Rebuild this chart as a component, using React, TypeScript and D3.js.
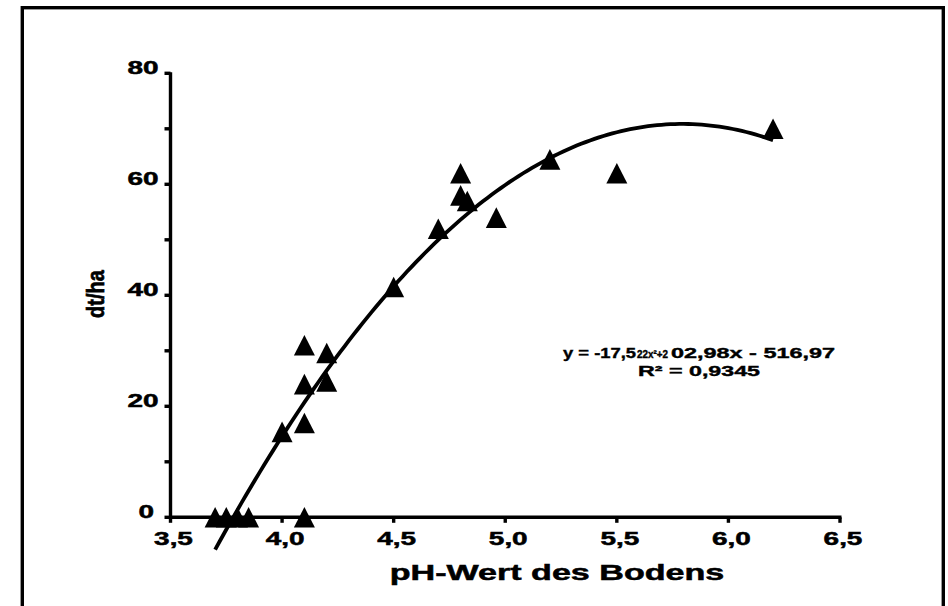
import { useEffect, useRef } from "react";
import * as d3 from "d3";

// soil pH vs yield (dt/ha)
const phValues = [3.7, 3.75, 3.8, 3.85, 4.1, 4.0, 4.1, 4.1, 4.2, 4.1, 4.2, 4.5, 4.7, 4.8, 4.8, 4.83, 4.96, 5.2, 5.5, 6.2];
const yieldValues = [0, 0, 0, 0, 0, 15.4, 17, 24, 24.5, 31, 29.6, 41.5, 52, 62, 58, 57, 54, 64.5, 62, 70];

// polynomial trendline as printed on the chart: a*x^2 + b*x + c
const trendCoefficients = [-17.522, 202.98, -516.97];
const trendRange = [3.7, 6.2];

const xTicks = [3.5, 4.0, 4.5, 5.0, 5.5, 6.0, 6.5];
const xTickLabels = ["3,5", "4,0", "4,5", "5,0", "5,5", "6,0", "6,5"];
const yTicks = [0, 20, 40, 60, 80];
const yMinorTicks = [10, 30, 50, 70];

const FONT = "'Liberation Sans', Arial, sans-serif";

const App = () => {
  const svgRef = useRef<SVGSVGElement | null>(null);

  useEffect(() => {
    const svg = d3.select(svgRef.current);
    svg.selectAll("*").remove();

    const x = d3.scaleLinear().domain([3.5, 6.5]).range([170.5, 840]);
    const y = d3.scaleLinear().domain([0, 80]).range([517.3, 73.3]);

    // outer frame
    svg
      .append("rect")
      .attr("x", 22.3)
      .attr("y", 7.7)
      .attr("width", 921)
      .attr("height", 620)
      .attr("fill", "none")
      .attr("stroke", "#000")
      .attr("stroke-width", 3.4);

    // heavy, wide labels like the original
    const stretched = (px: number, py: number, str: string, size: number, k: number, anchor: string) =>
      svg
        .append("text")
        .attr("transform", "translate(" + px + "," + py + ") scale(" + k + ",1)")
        .attr("text-anchor", anchor)
        .style("font-family", FONT)
        .style("font-weight", "bold")
        .style("font-size", size + "px")
        .attr("fill", "#000")
        .attr("stroke", "#000")
        .attr("stroke-width", 0.5)
        .text(str);

    // axes
    const axes = svg.append("g").attr("stroke", "#000").attr("stroke-width", 3.4);
    axes.append("line").attr("x1", x(3.5)).attr("x2", x(3.5)).attr("y1", y(80) - 1).attr("y2", y(0) + 1.5);
    axes.append("line").attr("x1", x(3.5) - 1.5).attr("x2", x(6.5) + 1.5).attr("y1", y(0)).attr("y2", y(0));

    axes
      .selectAll(".ytick")
      .data(yTicks.concat(yMinorTicks))
      .enter()
      .append("line")
      .attr("x1", x(3.5) - 6)
      .attr("x2", x(3.5))
      .attr("y1", (d) => y(d))
      .attr("y2", (d) => y(d));

    axes
      .selectAll(".xtick")
      .data(xTicks)
      .enter()
      .append("line")
      .attr("x1", (d) => x(d))
      .attr("x2", (d) => x(d))
      .attr("y1", y(0))
      .attr("y2", y(0) + 5.5);

    yTicks.forEach((t) => {
      stretched(t === 0 ? 154 : 158.5, y(t) + 0.5, String(t), 18, 1.55, "end");
    });

    xTicks.forEach((t, i) => {
      stretched(x(t) + 3, 544.5, xTickLabels[i], 18, 1.55, "middle");
    });

    // axis titles
    stretched(557, 580, "pH-Wert des Bodens", 22, 1.55, "middle");

    svg
      .append("text")
      .attr("transform", "translate(104,294) rotate(-90) scale(1,1.2)")
      .attr("text-anchor", "middle")
      .style("font-family", FONT)
      .style("font-weight", "bold")
      .style("font-size", "20px")
      .attr("stroke", "#000")
      .attr("stroke-width", 0.6)
      .text("dt/ha");

    // trendline
    const [a, b, c] = trendCoefficients;
    const xs = d3.range(trendRange[0], trendRange[1] + 0.0001, 0.02);
    const line = d3
      .line<number>()
      .x((d) => x(d))
      .y((d) => y(a * d * d + b * d + c))
      .curve(d3.curveLinear);

    svg
      .append("path")
      .datum(xs)
      .attr("d", line)
      .attr("fill", "none")
      .attr("stroke", "#000")
      .attr("stroke-width", 3.8)
      .attr("stroke-linejoin", "round");

    // data markers
    svg
      .append("g")
      .selectAll("path")
      .data(phValues)
      .enter()
      .append("path")
      .attr("d", "M0,-10.3L10.5,10.3L-10.5,10.3Z")
      .attr("transform", (d, i) => "translate(" + x(d) + "," + y(yieldValues[i]) + ")")
      .attr("fill", "#000");

    // trendline equation; the superscripts are squeezed together in the original
    const eqText = svg
      .append("text")
      .style("font-family", FONT)
      .style("font-weight", "bold")
      .style("font-size", "15px")
      .attr("stroke", "#000")
      .attr("stroke-width", 0.4);

    const eqParts = [
      { str: "y = -17,5", px: 563, len: 73, size: 15 },
      { str: "22x²+2", px: 637, len: 31, size: 10.5 },
      { str: "02,98x - 516,97", px: 671, len: 164, size: 15 },
    ];
    eqParts.forEach((p) => {
      eqText
        .append("tspan")
        .attr("x", p.px)
        .attr("y", 358)
        .attr("textLength", p.len)
        .attr("lengthAdjust", "spacingAndGlyphs")
        .style("font-size", p.size + "px")
        .text(p.str);
    });

    svg
      .append("text")
      .attr("x", 638)
      .attr("y", 376)
      .attr("textLength", 122)
      .attr("lengthAdjust", "spacingAndGlyphs")
      .style("font-family", FONT)
      .style("font-weight", "bold")
      .style("font-size", "15px")
      .attr("stroke", "#000")
      .attr("stroke-width", 0.4)
      .text("R² = 0,9345");
  }, []);

  return (
    <svg
      ref={svgRef}
      width={948}
      height={606}
      style={{ position: "absolute", left: 0, top: 0, background: "#fff" }}
    />
  );
};

export default App;
